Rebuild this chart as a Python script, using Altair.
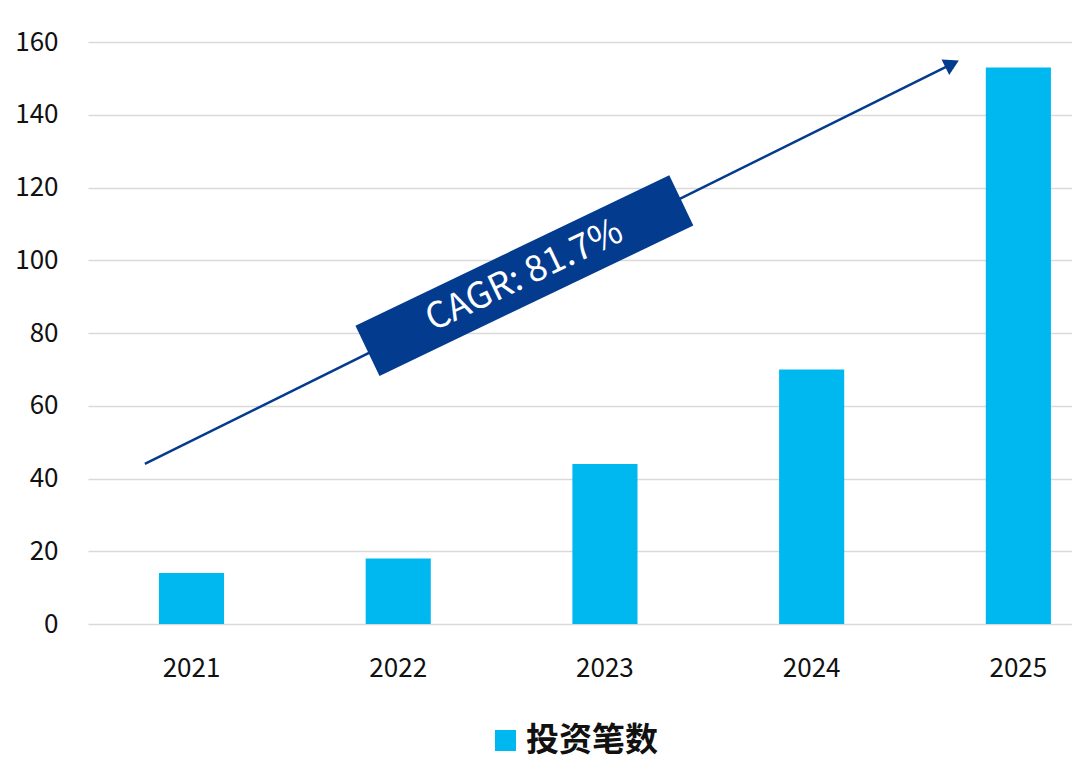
import altair as alt
import pandas as pd

years = ["2021", "2022", "2023", "2024", "2025"]
counts = [14, 18, 44, 70, 153]
series_name = "投资笔数"

# annotation (arrow + CAGR badge) in data units: x = year position, y = value
arrow_x = [2020.775, 2024.68]
arrow_y = [44, 153.98]
badge_x = [2022.611]
badge_y = [95.78]
badge_text = ["CAGR: 81.7%"]

FONT = "Noto Sans CJK SC"
BAR = "#00B8F0"
NAVY = "#033B8F"

bars_df = pd.DataFrame({"year": years, "count": counts, "series": [series_name] * len(years)})
arrow_df = pd.DataFrame({"x": arrow_x, "y": arrow_y})
head_df = pd.DataFrame({"x": arrow_x[1:], "y": arrow_y[1:]})
badge_df = pd.DataFrame({"x": badge_x, "y": badge_y, "t": badge_text})

yscale = alt.Scale(domain=[0, 160], nice=False)
yaxis = alt.Axis(title=None, values=list(range(0, 161, 20)), ticks=False,
                 domain=False, labelFontSize=26, labelFont=FONT,
                 labelColor="#111111", labelPadding=30,
                 gridColor="#d9d9d9", gridWidth=1.5)
ax_scale = alt.Scale(domain=[2020.5, 2025.26], nice=False, zero=False)

bars = alt.Chart(bars_df).mark_bar().encode(
    x=alt.X("year:N", sort=years,
            scale=alt.Scale(paddingInner=0.685, paddingOuter=0.2226, align=0.771),
            axis=alt.Axis(title=None, labelAngle=0, ticks=False, domain=False,
                          labelFontSize=26, labelFont=FONT, labelColor="#111111",
                          labelPadding=31, grid=False)),
    y=alt.Y("count:Q", scale=yscale, axis=yaxis),
    color=alt.Color("series:N", scale=alt.Scale(range=[BAR]),
                    legend=alt.Legend(orient="none", legendX=401, legendY=682,
                                      title=None, symbolType="square",
                                      symbolSize=441, symbolStrokeWidth=0,
                                      labelFontSize=33, labelFont=FONT,
                                      labelFontWeight="bold", labelColor="#111111",
                                      direction="horizontal", labelOffset=4)),
)

line = alt.Chart(arrow_df).mark_line(color=NAVY, strokeWidth=2.5).encode(
    x=alt.X("x:Q", scale=ax_scale, axis=None),
    y=alt.Y("y:Q", scale=yscale, axis=yaxis),
)

head = alt.Chart(head_df).mark_point(
    shape="triangle-up", size=300, filled=True, color=NAVY, opacity=1, angle=63.7
).encode(
    x=alt.X("x:Q", scale=ax_scale, axis=None),
    y=alt.Y("y:Q", scale=yscale, axis=yaxis),
)

badge = alt.Chart(badge_df).mark_point(
    shape="M-1,-0.16L1,-0.16L1,0.16L-1,0.16Z", size=348 * 348, filled=True,
    color=NAVY, opacity=1, angle=334.4
).encode(
    x=alt.X("x:Q", scale=ax_scale, axis=None),
    y=alt.Y("y:Q", scale=yscale, axis=yaxis),
)

badge_label = alt.Chart(badge_df).mark_text(
    color="white", fontSize=36, font=FONT, angle=334.4, align="center", baseline="middle"
).encode(
    x=alt.X("x:Q", scale=ax_scale, axis=None),
    y=alt.Y("y:Q", scale=yscale, axis=yaxis),
    text="t:N",
)

chart = alt.layer(bars, line, head, badge, badge_label).resolve_scale(
    x="independent"
).properties(
    width=984, height=582,
    padding={"left": 80, "top": 34, "right": 0, "bottom": 142},
    autosize=alt.AutoSizeParams(type="none"),
).configure_view(stroke=None)

chart.save("out.html", embed_options={"renderer": "svg", "actions": False})
